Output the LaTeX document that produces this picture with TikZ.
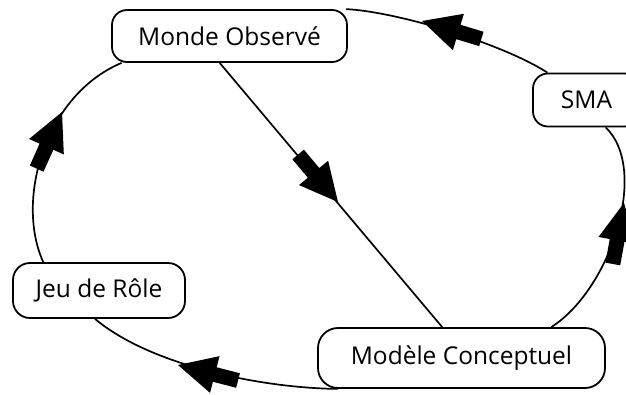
\documentclass[tikz,border=0pt]{standalone}
\usepackage{fontspec}
\setmainfont{Open Sans}
\begin{document}
\begin{tikzpicture}[x=1pt,y=-1pt,
  box/.style={draw,line width=1.8pt,rounded corners=15pt,inner sep=0pt,
    font=\fontsize{24.5}{28}\selectfont},
  conn/.style={line width=1.7pt},
  bigarrow/.pic={\fill (0,0) -- (-38,-19) -- (-38,-7.5) -- (-62,-7.5) -- (-62,7.5) -- (-38,7.5) -- (-38,19) -- cycle;}]
\fill[white] (0,0) rectangle (626,394);
\useasboundingbox (0,0) rectangle (626,394);
\clip (0,0) rectangle (626,394);
% nodes
\node[box,minimum width=235pt,minimum height=52pt] (monde) at (229.5,36) {Monde Observé};
\node[box,minimum width=107pt,minimum height=53pt] (sma) at (586.5,100) {SMA};
\node[box,minimum width=172pt,minimum height=55pt,rounded corners=17pt] (jeu) at (99,290.5) {Jeu de Rôle};
\node[box,minimum width=287pt,minimum height=60pt,rounded corners=20pt] (modele) at (461.5,358) {Modèle Conceptuel};
% connectors
\draw[conn] (monde.-110) -- (modele.122);
\draw[conn] (sma.145) .. controls (505,45) and (400,12) .. (monde.13);
\draw[conn] (modele.19) .. controls (610,290) and (650,170) .. (sma.-55);
\draw[conn] (modele.194) .. controls (260,388) and (150,365) .. (jeu.-98);
\draw[conn] (jeu.153) .. controls (15,200) and (45,95) .. (monde.194);
% arrowheads
\pic[rotate=163.2] at (422,21) {bigarrow};
\pic[rotate=79.6] at (624,203) {bigarrow};
\pic[rotate=165.5] at (178,365) {bigarrow};
\pic[rotate=-50] at (338,202) {bigarrow};
\pic[rotate=65.9] at (62,112) {bigarrow};
\end{tikzpicture}
\end{document}
